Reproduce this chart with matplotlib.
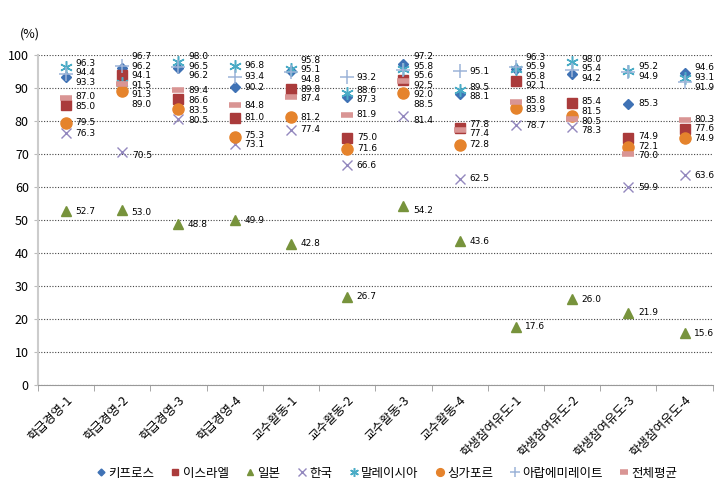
import matplotlib.pyplot as plt
import numpy as np

plt.rcParams['font.family'] = ['Noto Sans CJK KR', 'DejaVu Sans']

categories = ['학급경영-1', '학급경영-2', '학급경영-3', '학급경영-4',
              '교수활동-1', '교수활동-2', '교수활동-3', '교수활동-4',
              '학생참여유도-1', '학생참여유도-2', '학생참여유도-3', '학생참여유도-4']

cyprus = [93.3, 96.2, 96.2, 90.2, 95.1, 87.3, 97.2, 88.1, 95.8, 94.2, 85.3, 94.6]
israel = [85.0, 94.1, 86.6, 81.0, 89.8, 75.0, 92.5, 77.8, 92.1, 85.4, 74.9, 77.6]
japan = [52.7, 53.0, 48.8, 49.9, 42.8, 26.7, 54.2, 43.6, 17.6, 26.0, 21.9, 15.6]
korea = [76.3, 70.5, 80.5, 73.1, 77.4, 66.6, 81.4, 62.5, 78.7, 78.3, 59.9, 63.6]
malaysia = [96.3, 91.5, 98.0, 96.8, 95.8, 88.6, 95.8, 89.5, 95.9, 98.0, 95.2, 93.1]
singapore = [79.5, 89.0, 83.5, 75.3, 81.2, 71.6, 88.5, 72.8, 83.9, 81.5, 72.1, 74.9]
uae = [94.4, 96.7, 96.5, 93.4, 94.8, 93.2, 95.6, 95.1, 96.3, 95.4, 94.9, 91.9]
average = [87.0, 91.3, 89.4, 84.8, 87.4, 81.9, 92.0, 77.4, 85.8, 80.5, 70.0, 80.3]

series = [
    ('키프로스', cyprus, 'D', '#3F72B5', 5, 1),
    ('이스라엘', israel, 's', '#AA3B3B', 7, 1),
    ('일본', japan, '^', '#77933C', 7, 1),
    ('한국', korea, 'x', '#9388BE', 7.5, 1),
    ('말레이시아', malaysia, (6, 2, 0), '#4BACC6', 9, 1.1),
    ('싱가포르', singapore, 'o', '#E5832C', 8, 1),
    ('아랍에미레이트', uae, '+', '#9DB4D8', 10, 1.1),
    ('전체평균', average, '_', '#D99594', 8, 4),
]

fig = plt.figure(figsize=(7.28, 4.96), dpi=100)
ax = fig.add_axes([0.052, 0.224, 0.927, 0.665])

x = np.arange(len(categories))
for name, vals, mk, col, ms, mew in series:
    if mk in ('x', '+', '_') or isinstance(mk, tuple):
        ax.plot(x, vals, linestyle='none', marker=mk, color=col, markersize=ms,
                markeredgewidth=mew, label=name)
    else:
        ax.plot(x, vals, linestyle='none', marker=mk, color=col, markersize=ms,
                markeredgecolor=col, label=name)

# data labels to the right, spread apart so they stay readable
gap = 2.9
for i in x:
    vals = sorted([s[1][i] for s in series], reverse=True)
    ys = list(vals)
    for _ in range(200):
        moved = False
        for k in range(len(ys) - 1):
            d = ys[k] - ys[k + 1]
            if d < gap - 1e-6:
                push = (gap - d) / 2
                ys[k] += push
                ys[k + 1] -= push
                moved = True
        if ys[0] > 99.5:
            ys = [y - (ys[0] - 99.5) for y in ys]
        if not moved:
            break
    for v, y in zip(vals, ys):
        ax.text(i + 0.17, y, '%.1f' % v, fontsize=6.5, va='center', ha='left',
                family='DejaVu Sans')

ax.set_xlim(-0.5, len(categories) - 0.5)
ax.set_ylim(0, 100)
ax.set_yticks(range(0, 101, 10))
ax.tick_params(axis='y', labelsize=9, length=3, color='#BBBBBB')
ax.set_xticks(x)
ax.set_xticklabels(categories, rotation=45, ha='right', rotation_mode='anchor', fontsize=9)
ax.tick_params(axis='x', length=0, pad=6)
ax.set_xticks(np.arange(-0.5, len(categories), 1), minor=True)
ax.tick_params(axis='x', which='minor', length=4, color='#999999')

ax.grid(axis='y', linestyle=(0, (1, 1.5)), color='#444444', linewidth=0.8)
ax.set_axisbelow(True)
for s in ['top', 'right']:
    ax.spines[s].set_visible(False)
ax.spines['left'].set_color('#CCCCCC')
ax.spines['left'].set_linewidth(1.5)
ax.spines['bottom'].set_color('#999999')

fig.text(0.027, 0.925, '(%)', fontsize=9)

fig.legend(loc='lower center', bbox_to_anchor=(0.53, 0.01), ncol=8, frameon=False,
           fontsize=9, handletextpad=0.1, columnspacing=1.2, markerscale=0.7,
           handlelength=1.0)

fig.savefig('out.png', dpi=100)
